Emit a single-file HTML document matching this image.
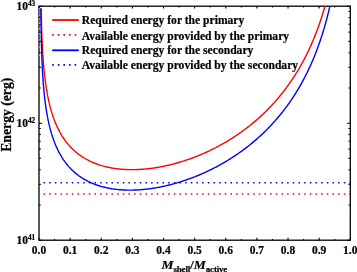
<!DOCTYPE html>
<html><head><meta charset="utf-8"><title>Energy</title><style>html,body{margin:0;padding:0;background:#fff}body{width:357px;height:272px;overflow:hidden}</style></head><body>
<svg width="357" height="272" viewBox="0 0 357 272" style="display:block;will-change:transform">
<rect width="357" height="272" fill="#fff"/>
<line x1="43.5" y1="193.9" x2="351.0" y2="193.9" stroke="#f00" stroke-width="1.5" stroke-dasharray="1.5 4.166"/>
<line x1="43.5" y1="182.7" x2="351.0" y2="182.7" stroke="#00f" stroke-width="1.5" stroke-dasharray="1.5 4.166"/>
<path d="M39.00,240.2v-2.4M39.00,6.2v2.4M54.56,240.2v-1.3M54.56,6.2v1.3M70.13,240.2v-2.4M70.13,6.2v2.4M85.70,240.2v-1.3M85.70,6.2v1.3M101.26,240.2v-2.4M101.26,6.2v2.4M116.83,240.2v-1.3M116.83,6.2v1.3M132.39,240.2v-2.4M132.39,6.2v2.4M147.96,240.2v-1.3M147.96,6.2v1.3M163.52,240.2v-2.4M163.52,6.2v2.4M179.09,240.2v-1.3M179.09,6.2v1.3M194.65,240.2v-2.4M194.65,6.2v2.4M210.22,240.2v-1.3M210.22,6.2v1.3M225.78,240.2v-2.4M225.78,6.2v2.4M241.35,240.2v-1.3M241.35,6.2v1.3M256.91,240.2v-2.4M256.91,6.2v2.4M272.48,240.2v-1.3M272.48,6.2v1.3M288.04,240.2v-2.4M288.04,6.2v2.4M303.61,240.2v-1.3M303.61,6.2v1.3M319.17,240.2v-2.4M319.17,6.2v2.4M334.74,240.2v-1.3M334.74,6.2v1.3M350.30,240.2v-2.4M350.30,6.2v2.4M39.0,240.20h3.2M350.3,240.20h-3.2M39.0,204.98h1.8M350.3,204.98h-1.8M39.0,184.38h1.8M350.3,184.38h-1.8M39.0,169.76h1.8M350.3,169.76h-1.8M39.0,158.42h1.8M350.3,158.42h-1.8M39.0,149.16h1.8M350.3,149.16h-1.8M39.0,141.32h1.8M350.3,141.32h-1.8M39.0,134.54h1.8M350.3,134.54h-1.8M39.0,128.55h1.8M350.3,128.55h-1.8M39.0,123.20h3.2M350.3,123.20h-3.2M39.0,87.98h1.8M350.3,87.98h-1.8M39.0,67.38h1.8M350.3,67.38h-1.8M39.0,52.76h1.8M350.3,52.76h-1.8M39.0,41.42h1.8M350.3,41.42h-1.8M39.0,32.16h1.8M350.3,32.16h-1.8M39.0,24.32h1.8M350.3,24.32h-1.8M39.0,17.54h1.8M350.3,17.54h-1.8M39.0,11.55h1.8M350.3,11.55h-1.8M39.0,6.20h3.2M350.3,6.20h-3.2" stroke="#000" stroke-width="1.1" fill="none"/>
<rect x="39.0" y="6.2" width="311.3" height="234.0" fill="none" stroke="#000" stroke-width="1.3"/>
<path d="M41.15,8.96 L41.21,11.87 L41.27,14.60 L41.32,17.17 L41.38,19.61 L41.44,21.91 L41.50,24.10 L41.56,26.19 L41.62,28.18 L41.68,30.09 L41.74,31.92 L41.80,33.67 L41.87,35.36 L41.93,36.99 L41.99,38.55 L42.06,40.07 L42.12,41.53 L42.19,42.94 L42.25,44.31 L42.32,45.64 L42.38,46.93 L42.45,48.18 L42.51,49.40 L42.58,50.58 L42.65,51.73 L42.72,52.85 L42.78,53.95 L42.85,55.01 L42.92,56.05 L42.99,57.07 L43.06,58.06 L43.13,59.03 L43.20,59.98 L43.27,60.91 L43.34,61.82 L43.41,62.70 L43.48,63.57 L43.55,64.43 L43.62,65.26 L43.69,66.08 L43.76,66.89 L43.83,67.68 L43.90,68.45 L43.97,69.21 L44.05,69.96 L44.12,70.70 L44.19,71.42 L44.26,72.13 L44.34,72.82 L44.41,73.51 L44.48,74.19 L44.55,74.85 L44.63,75.50 L44.70,76.15 L44.77,76.78 L44.85,77.41 L44.92,78.02 L45.00,78.63 L45.07,79.22 L45.14,79.81 L45.22,80.39 L45.29,80.97 L45.37,81.53 L45.44,82.09 L45.51,82.64 L45.59,83.18 L45.66,83.71 L45.74,84.24 L45.81,84.76 L45.89,85.28 L45.96,85.79 L46.04,86.29 L46.11,86.78 L46.19,87.27 L46.26,87.76 L46.34,88.23 L46.41,88.71 L46.49,89.17 L46.57,89.64 L46.64,90.09 L46.72,90.54 L46.79,90.99 L46.87,91.43 L46.94,91.87 L47.02,92.30 L47.10,92.73 L47.17,93.15 L47.25,93.57 L47.32,93.98 L47.40,94.39 L47.48,94.79 L47.55,95.20 L47.63,95.59 L47.70,95.99 L47.78,96.37 L47.86,96.76 L47.93,97.14 L48.01,97.52 L48.09,97.89 L48.16,98.26 L48.24,98.63 L48.32,99.00 L48.39,99.36 L48.47,99.71 L48.55,100.07 L48.62,100.42 L48.70,100.76 L48.78,101.11 L48.85,101.45 L48.93,101.79 L49.01,102.12 L49.08,102.46 L49.16,102.79 L49.24,103.11 L49.31,103.44 L49.39,103.76 L49.47,104.08 L49.54,104.39 L49.62,104.71 L49.70,105.02 L49.77,105.32 L49.85,105.63 L49.93,105.93 L50.01,106.23 L50.08,106.53 L50.16,106.83 L50.24,107.12 L50.31,107.41 L50.39,107.70 L50.47,107.99 L50.54,108.27 L50.62,108.56 L50.70,108.84 L50.78,109.12 L50.85,109.39 L50.93,109.67 L51.01,109.94 L51.08,110.21 L51.16,110.48 L51.24,110.74 L51.32,111.01 L51.39,111.27 L51.47,111.53 L51.55,111.79 L51.62,112.05 L51.70,112.30 L51.78,112.56 L51.86,112.81 L51.93,113.06 L52.01,113.31 L52.09,113.55 L52.17,113.80 L52.24,114.04 L52.32,114.28 L52.40,114.52 L52.47,114.76 L52.55,115.00 L52.63,115.23 L52.71,115.47 L52.78,115.70 L52.86,115.93 L52.94,116.16 L53.02,116.39 L53.09,116.61 L53.17,116.84 L53.25,117.06 L53.32,117.28 L53.40,117.50 L53.48,117.72 L53.56,117.94 L53.63,118.16 L53.71,118.37 L53.79,118.59 L53.87,118.80 L53.94,119.01 L54.02,119.22 L54.10,119.43 L54.18,119.64 L54.25,119.84 L54.33,120.05 L54.41,120.25 L54.49,120.46 L54.56,120.66 L54.64,120.86 L54.72,121.06 L54.79,121.26 L54.87,121.45 L54.87,121.45 L55.76,123.63 L56.64,125.67 L57.53,127.59 L58.41,129.41 L59.30,131.12 L60.18,132.75 L61.07,134.30 L61.95,135.77 L62.84,137.16 L63.72,138.50 L64.61,139.77 L65.49,140.99 L66.38,142.16 L67.26,143.28 L68.15,144.35 L69.03,145.37 L69.92,146.36 L70.80,147.31 L71.69,148.22 L72.58,149.09 L73.46,149.94 L74.35,150.75 L75.23,151.53 L76.12,152.29 L77.00,153.01 L77.89,153.71 L78.77,154.39 L79.66,155.04 L80.54,155.67 L81.43,156.28 L82.31,156.86 L83.20,157.43 L84.08,157.98 L84.97,158.50 L85.85,159.01 L86.74,159.51 L87.62,159.98 L88.51,160.44 L89.39,160.88 L90.28,161.31 L91.17,161.73 L92.05,162.12 L92.94,162.51 L93.82,162.88 L94.71,163.24 L95.59,163.58 L96.48,163.92 L97.36,164.24 L98.25,164.55 L99.13,164.84 L100.02,165.13 L100.90,165.41 L101.79,165.67 L102.67,165.93 L103.56,166.17 L104.44,166.41 L105.33,166.63 L106.21,166.85 L107.10,167.05 L107.99,167.25 L108.87,167.44 L109.76,167.62 L110.64,167.79 L111.53,167.95 L112.41,168.10 L113.30,168.25 L114.18,168.39 L115.07,168.52 L115.95,168.64 L116.84,168.75 L117.72,168.86 L118.61,168.96 L119.49,169.05 L120.38,169.14 L121.26,169.22 L122.15,169.29 L123.03,169.36 L123.92,169.42 L124.80,169.47 L125.69,169.51 L126.58,169.55 L127.46,169.59 L128.35,169.61 L129.23,169.63 L130.12,169.65 L131.00,169.66 L131.89,169.66 L132.77,169.66 L133.66,169.65 L134.54,169.63 L135.43,169.61 L136.31,169.59 L137.20,169.56 L138.08,169.52 L138.97,169.48 L139.85,169.43 L140.74,169.38 L141.62,169.32 L142.51,169.25 L143.40,169.18 L144.28,169.11 L145.17,169.03 L146.05,168.95 L146.94,168.86 L147.82,168.76 L148.71,168.66 L149.59,168.56 L150.48,168.45 L151.36,168.33 L152.25,168.21 L153.13,168.09 L154.02,167.96 L154.90,167.83 L155.79,167.69 L156.67,167.55 L157.56,167.40 L158.44,167.25 L159.33,167.09 L160.21,166.93 L161.10,166.76 L161.99,166.59 L162.87,166.41 L163.76,166.23 L164.64,166.05 L165.53,165.86 L166.41,165.67 L167.30,165.47 L168.18,165.26 L169.07,165.06 L169.95,164.84 L170.84,164.63 L171.72,164.41 L172.61,164.18 L173.49,163.95 L174.38,163.71 L175.26,163.48 L176.15,163.23 L177.03,162.98 L177.92,162.73 L178.81,162.47 L179.69,162.21 L180.58,161.95 L181.46,161.68 L182.35,161.40 L183.23,161.12 L184.12,160.84 L185.00,160.55 L185.89,160.25 L186.77,159.96 L187.66,159.65 L188.54,159.35 L189.43,159.04 L190.31,158.72 L191.20,158.40 L192.08,158.08 L192.97,157.75 L193.85,157.41 L194.74,157.07 L195.62,156.73 L196.51,156.38 L197.40,156.03 L198.28,155.67 L199.17,155.31 L200.05,154.94 L200.94,154.57 L201.82,154.19 L202.71,153.81 L203.59,153.43 L204.48,153.03 L205.36,152.64 L206.25,152.24 L207.13,151.83 L208.02,151.42 L208.90,151.01 L209.79,150.58 L210.67,150.16 L211.56,149.73 L212.44,149.29 L213.33,148.85 L214.22,148.40 L215.10,147.95 L215.99,147.50 L216.87,147.03 L217.76,146.57 L218.64,146.09 L219.53,145.62 L220.41,145.13 L221.30,144.64 L222.18,144.15 L223.07,143.65 L223.95,143.14 L224.84,142.63 L225.72,142.11 L226.61,141.59 L227.49,141.06 L228.38,140.53 L229.26,139.98 L230.15,139.44 L231.03,138.88 L231.92,138.33 L232.81,137.76 L233.69,137.19 L234.58,136.61 L235.46,136.03 L236.35,135.43 L237.23,134.84 L238.12,134.23 L239.00,133.62 L239.89,133.00 L240.77,132.38 L241.66,131.75 L242.54,131.11 L243.43,130.46 L244.31,129.81 L245.20,129.15 L246.08,128.48 L246.97,127.80 L247.85,127.12 L248.74,126.43 L249.63,125.73 L250.51,125.02 L251.40,124.31 L252.28,123.59 L253.17,122.85 L254.05,122.11 L254.94,121.37 L255.82,120.61 L256.71,119.84 L257.59,119.07 L258.48,118.28 L259.36,117.49 L260.25,116.68 L261.13,115.87 L262.02,115.05 L262.90,114.22 L263.79,113.37 L264.67,112.52 L265.56,111.66 L266.44,110.78 L267.33,109.90 L268.22,109.00 L269.10,108.09 L269.99,107.18 L270.87,106.24 L271.76,105.30 L272.64,104.35 L273.53,103.38 L274.41,102.40 L275.30,101.40 L276.18,100.40 L277.07,99.38 L277.95,98.34 L278.84,97.29 L279.72,96.23 L280.61,95.15 L281.49,94.06 L282.38,92.95 L283.26,91.82 L284.15,90.68 L285.04,89.52 L285.92,88.35 L286.81,87.15 L287.69,85.94 L288.58,84.71 L289.46,83.46 L290.35,82.19 L291.23,80.90 L292.12,79.59 L293.00,78.26 L293.89,76.91 L294.77,75.53 L295.66,74.13 L296.54,72.71 L297.43,71.26 L298.31,69.78 L299.20,68.28 L300.08,66.75 L300.97,65.19 L301.85,63.61 L302.74,61.99 L303.63,60.34 L304.51,58.66 L305.40,56.94 L306.28,55.19 L307.17,53.40 L308.05,51.58 L308.94,49.71 L309.82,47.80 L310.71,45.85 L311.59,43.86 L312.48,41.81 L313.36,39.72 L314.25,37.58 L315.13,35.38 L316.02,33.13 L316.90,30.81 L317.79,28.43 L318.67,25.99 L319.56,23.48 L319.56,23.48 L319.78,22.84 L320.00,22.20 L320.22,21.55 L320.44,20.90 L320.66,20.25 L320.88,19.59 L321.10,18.92 L321.32,18.25 L321.54,17.58 L321.76,16.90 L321.98,16.21 L322.20,15.52 L322.42,14.82 L322.64,14.12 L322.86,13.41 L323.08,12.70 L323.30,11.98 L323.52,11.25 L323.74,10.52 L323.96,9.78 L324.18,9.04 L324.40,8.29 L324.62,7.53 L324.84,6.77 L325.06,6.00" fill="none" stroke="#f00" stroke-width="1.4" stroke-linejoin="round"/>
<path d="M40.83,8.04 L40.88,12.81 L40.93,17.12 L40.99,21.05 L41.04,24.66 L41.10,28.00 L41.15,31.11 L41.21,34.02 L41.27,36.75 L41.32,39.32 L41.38,41.75 L41.44,44.05 L41.50,46.24 L41.56,48.32 L41.62,50.31 L41.68,52.22 L41.74,54.04 L41.80,55.80 L41.87,57.48 L41.93,59.11 L41.99,60.67 L42.06,62.18 L42.12,63.64 L42.19,65.05 L42.25,66.42 L42.32,67.75 L42.38,69.03 L42.45,70.28 L42.51,71.50 L42.58,72.68 L42.65,73.83 L42.72,74.95 L42.78,76.04 L42.85,77.10 L42.92,78.14 L42.99,79.16 L43.06,80.15 L43.13,81.11 L43.20,82.06 L43.27,82.98 L43.34,83.89 L43.41,84.78 L43.48,85.65 L43.55,86.50 L43.62,87.33 L43.69,88.15 L43.76,88.95 L43.83,89.74 L43.90,90.51 L43.97,91.27 L44.05,92.02 L44.12,92.75 L44.19,93.47 L44.26,94.18 L44.34,94.87 L44.41,95.56 L44.48,96.23 L44.55,96.89 L44.63,97.54 L44.70,98.18 L44.77,98.82 L44.85,99.44 L44.92,100.05 L45.00,100.66 L45.07,101.25 L45.14,101.84 L45.22,102.42 L45.29,102.99 L45.37,103.55 L45.44,104.10 L45.51,104.65 L45.59,105.19 L45.66,105.72 L45.74,106.25 L45.81,106.77 L45.89,107.28 L45.96,107.79 L46.04,108.29 L46.11,108.78 L46.19,109.27 L46.26,109.75 L46.34,110.23 L46.41,110.70 L46.49,111.16 L46.57,111.62 L46.64,112.08 L46.72,112.53 L46.79,112.97 L46.87,113.41 L46.94,113.84 L47.02,114.27 L47.10,114.70 L47.17,115.12 L47.25,115.54 L47.32,115.95 L47.40,116.35 L47.48,116.76 L47.55,117.16 L47.63,117.55 L47.70,117.94 L47.78,118.33 L47.86,118.71 L47.93,119.09 L48.01,119.47 L48.09,119.84 L48.16,120.21 L48.24,120.58 L48.32,120.94 L48.39,121.30 L48.47,121.65 L48.55,122.00 L48.62,122.35 L48.70,122.70 L48.78,123.04 L48.85,123.38 L48.93,123.72 L49.01,124.05 L49.08,124.38 L49.16,124.71 L49.24,125.03 L49.31,125.36 L49.39,125.67 L49.47,125.99 L49.54,126.31 L49.62,126.62 L49.70,126.93 L49.77,127.23 L49.85,127.54 L49.93,127.84 L50.01,128.14 L50.08,128.43 L50.16,128.73 L50.24,129.02 L50.31,129.31 L50.39,129.60 L50.47,129.88 L50.54,130.16 L50.62,130.45 L50.70,130.72 L50.78,131.00 L50.85,131.28 L50.93,131.55 L51.01,131.82 L51.08,132.09 L51.16,132.35 L51.24,132.62 L51.32,132.88 L51.39,133.14 L51.47,133.40 L51.55,133.66 L51.62,133.91 L51.70,134.17 L51.78,134.42 L51.86,134.67 L51.93,134.92 L52.01,135.16 L52.09,135.41 L52.17,135.65 L52.24,135.89 L52.32,136.13 L52.40,136.37 L52.47,136.61 L52.55,136.84 L52.63,137.07 L52.71,137.31 L52.78,137.54 L52.86,137.77 L52.94,137.99 L53.02,138.22 L53.09,138.44 L53.17,138.67 L53.25,138.89 L53.32,139.11 L53.40,139.33 L53.48,139.55 L53.56,139.76 L53.63,139.98 L53.71,140.19 L53.79,140.40 L53.87,140.61 L53.94,140.82 L54.02,141.03 L54.10,141.24 L54.18,141.44 L54.25,141.65 L54.33,141.85 L54.41,142.06 L54.49,142.26 L54.56,142.46 L54.64,142.65 L54.72,142.85 L54.79,143.05 L54.87,143.24 L54.87,143.24 L55.76,145.40 L56.64,147.42 L57.53,149.32 L58.41,151.12 L59.30,152.82 L60.18,154.43 L61.07,155.95 L61.95,157.40 L62.84,158.79 L63.72,160.10 L64.61,161.36 L65.49,162.56 L66.38,163.71 L67.26,164.81 L68.15,165.86 L69.03,166.87 L69.92,167.84 L70.80,168.77 L71.69,169.66 L72.58,170.52 L73.46,171.35 L74.35,172.14 L75.23,172.91 L76.12,173.64 L77.00,174.35 L77.89,175.04 L78.77,175.70 L79.66,176.33 L80.54,176.94 L81.43,177.54 L82.31,178.11 L83.20,178.66 L84.08,179.19 L84.97,179.70 L85.85,180.19 L86.74,180.67 L87.62,181.13 L88.51,181.57 L89.39,182.00 L90.28,182.41 L91.17,182.81 L92.05,183.19 L92.94,183.56 L93.82,183.92 L94.71,184.26 L95.59,184.59 L96.48,184.91 L97.36,185.22 L98.25,185.51 L99.13,185.79 L100.02,186.07 L100.90,186.33 L101.79,186.58 L102.67,186.82 L103.56,187.05 L104.44,187.27 L105.33,187.48 L106.21,187.68 L107.10,187.87 L107.99,188.05 L108.87,188.23 L109.76,188.39 L110.64,188.55 L111.53,188.70 L112.41,188.84 L113.30,188.97 L114.18,189.09 L115.07,189.21 L115.95,189.32 L116.84,189.42 L117.72,189.52 L118.61,189.60 L119.49,189.68 L120.38,189.76 L121.26,189.82 L122.15,189.88 L123.03,189.93 L123.92,189.98 L124.80,190.02 L125.69,190.05 L126.58,190.08 L127.46,190.10 L128.35,190.11 L129.23,190.12 L130.12,190.12 L131.00,190.12 L131.89,190.11 L132.77,190.09 L133.66,190.07 L134.54,190.05 L135.43,190.01 L136.31,189.98 L137.20,189.93 L138.08,189.88 L138.97,189.83 L139.85,189.77 L140.74,189.70 L141.62,189.63 L142.51,189.56 L143.40,189.48 L144.28,189.39 L145.17,189.30 L146.05,189.21 L146.94,189.10 L147.82,189.00 L148.71,188.89 L149.59,188.77 L150.48,188.65 L151.36,188.53 L152.25,188.40 L153.13,188.26 L154.02,188.12 L154.90,187.98 L155.79,187.83 L156.67,187.67 L157.56,187.52 L158.44,187.35 L159.33,187.19 L160.21,187.01 L161.10,186.84 L161.99,186.65 L162.87,186.47 L163.76,186.28 L164.64,186.08 L165.53,185.88 L166.41,185.68 L167.30,185.47 L168.18,185.26 L169.07,185.04 L169.95,184.82 L170.84,184.59 L171.72,184.36 L172.61,184.12 L173.49,183.89 L174.38,183.64 L175.26,183.39 L176.15,183.14 L177.03,182.88 L177.92,182.62 L178.81,182.35 L179.69,182.08 L180.58,181.81 L181.46,181.53 L182.35,181.24 L183.23,180.95 L184.12,180.66 L185.00,180.36 L185.89,180.06 L186.77,179.76 L187.66,179.44 L188.54,179.13 L189.43,178.81 L190.31,178.49 L191.20,178.16 L192.08,177.82 L192.97,177.48 L193.85,177.14 L194.74,176.80 L195.62,176.44 L196.51,176.09 L197.40,175.73 L198.28,175.36 L199.17,174.99 L200.05,174.62 L200.94,174.24 L201.82,173.85 L202.71,173.46 L203.59,173.07 L204.48,172.67 L205.36,172.27 L206.25,171.86 L207.13,171.45 L208.02,171.03 L208.90,170.60 L209.79,170.18 L210.67,169.74 L211.56,169.30 L212.44,168.86 L213.33,168.41 L214.22,167.96 L215.10,167.50 L215.99,167.04 L216.87,166.57 L217.76,166.09 L218.64,165.62 L219.53,165.13 L220.41,164.64 L221.30,164.14 L222.18,163.64 L223.07,163.14 L223.95,162.62 L224.84,162.11 L225.72,161.58 L226.61,161.05 L227.49,160.52 L228.38,159.98 L229.26,159.43 L230.15,158.88 L231.03,158.32 L231.92,157.75 L232.81,157.18 L233.69,156.60 L234.58,156.02 L235.46,155.43 L236.35,154.83 L237.23,154.23 L238.12,153.62 L239.00,153.00 L239.89,152.38 L240.77,151.75 L241.66,151.11 L242.54,150.46 L243.43,149.81 L244.31,149.15 L245.20,148.49 L246.08,147.82 L246.97,147.13 L247.85,146.45 L248.74,145.75 L249.63,145.05 L250.51,144.33 L251.40,143.61 L252.28,142.89 L253.17,142.15 L254.05,141.41 L254.94,140.65 L255.82,139.89 L256.71,139.12 L257.59,138.34 L258.48,137.55 L259.36,136.75 L260.25,135.94 L261.13,135.13 L262.02,134.30 L262.90,133.46 L263.79,132.62 L264.67,131.76 L265.56,130.89 L266.44,130.01 L267.33,129.12 L268.22,128.22 L269.10,127.31 L269.99,126.39 L270.87,125.45 L271.76,124.51 L272.64,123.55 L273.53,122.58 L274.41,121.59 L275.30,120.60 L276.18,119.58 L277.07,118.56 L277.95,117.52 L278.84,116.47 L279.72,115.40 L280.61,114.32 L281.49,113.22 L282.38,112.11 L283.26,110.98 L284.15,109.84 L285.04,108.68 L285.92,107.50 L286.81,106.30 L287.69,105.09 L288.58,103.85 L289.46,102.60 L290.35,101.33 L291.23,100.04 L292.12,98.72 L293.00,97.39 L293.89,96.03 L294.77,94.65 L295.66,93.25 L296.54,91.82 L297.43,90.37 L298.31,88.89 L299.20,87.39 L300.08,85.86 L300.97,84.30 L301.85,82.71 L302.74,81.09 L303.63,79.44 L304.51,77.75 L305.40,76.03 L306.28,74.28 L307.17,72.49 L308.05,70.66 L308.94,68.79 L309.82,66.89 L310.71,64.93 L311.59,62.94 L312.48,60.89 L313.36,58.80 L314.25,56.65 L315.13,54.45 L316.02,52.19 L316.90,49.88 L317.79,47.50 L318.67,45.05 L319.56,42.54 L319.56,42.54 L319.78,41.90 L320.00,41.26 L320.22,40.62 L320.44,39.96 L320.66,39.31 L320.88,38.65 L321.10,37.98 L321.32,37.31 L321.54,36.64 L321.76,35.95 L321.98,35.27 L322.20,34.58 L322.42,33.88 L322.64,33.18 L322.86,32.47 L323.08,31.75 L323.30,31.03 L323.52,30.31 L323.74,29.58 L323.96,28.84 L324.18,28.10 L324.40,27.34 L324.62,26.59 L324.84,25.83 L325.06,25.06 L325.28,24.28 L325.50,23.50 L325.73,22.71 L325.95,21.91 L326.17,21.10 L326.39,20.29 L326.61,19.47 L326.83,18.65 L327.05,17.81 L327.27,16.97 L327.49,16.12 L327.71,15.26 L327.93,14.39 L328.15,13.52 L328.37,12.63 L328.59,11.74 L328.81,10.84 L329.03,9.92 L329.25,9.00 L329.47,8.07 L329.69,7.13 L329.91,6.18" fill="none" stroke="#00f" stroke-width="1.4" stroke-linejoin="round"/>
<path d="M39.1,8.9h1.1M39.1,11.7h1.1M39.1,15.0h1.1M39.1,18.8h1.1M39.1,23.4h1.1M39.1,28.7h1.1M39.1,33.8h1.1M39.1,40.0h1.1M39.1,47.0h1.1M39.1,55.0h1.1" stroke="#e0e0ea" stroke-width="1.1" fill="none"/>
<text x="39.00" y="253.5" text-anchor="middle" font-family="Liberation Serif, serif" font-weight="bold" stroke="#000" stroke-width="0.2" font-size="11.5">0.0</text>
<text x="70.13" y="253.5" text-anchor="middle" font-family="Liberation Serif, serif" font-weight="bold" stroke="#000" stroke-width="0.2" font-size="11.5">0.1</text>
<text x="101.26" y="253.5" text-anchor="middle" font-family="Liberation Serif, serif" font-weight="bold" stroke="#000" stroke-width="0.2" font-size="11.5">0.2</text>
<text x="132.39" y="253.5" text-anchor="middle" font-family="Liberation Serif, serif" font-weight="bold" stroke="#000" stroke-width="0.2" font-size="11.5">0.3</text>
<text x="163.52" y="253.5" text-anchor="middle" font-family="Liberation Serif, serif" font-weight="bold" stroke="#000" stroke-width="0.2" font-size="11.5">0.4</text>
<text x="194.65" y="253.5" text-anchor="middle" font-family="Liberation Serif, serif" font-weight="bold" stroke="#000" stroke-width="0.2" font-size="11.5">0.5</text>
<text x="225.78" y="253.5" text-anchor="middle" font-family="Liberation Serif, serif" font-weight="bold" stroke="#000" stroke-width="0.2" font-size="11.5">0.6</text>
<text x="256.91" y="253.5" text-anchor="middle" font-family="Liberation Serif, serif" font-weight="bold" stroke="#000" stroke-width="0.2" font-size="11.5">0.7</text>
<text x="288.04" y="253.5" text-anchor="middle" font-family="Liberation Serif, serif" font-weight="bold" stroke="#000" stroke-width="0.2" font-size="11.5">0.8</text>
<text x="319.17" y="253.5" text-anchor="middle" font-family="Liberation Serif, serif" font-weight="bold" stroke="#000" stroke-width="0.2" font-size="11.5">0.9</text>
<text x="350.30" y="253.5" text-anchor="middle" font-family="Liberation Serif, serif" font-weight="bold" stroke="#000" stroke-width="0.2" font-size="11.5">1.0</text>
<text x="35.2" y="244.40" text-anchor="end" font-family="Liberation Serif, serif" font-weight="bold" stroke="#000" stroke-width="0.2" font-size="11.5">10<tspan font-size="7.3" dy="-4.7">41</tspan></text>
<text x="35.2" y="127.40" text-anchor="end" font-family="Liberation Serif, serif" font-weight="bold" stroke="#000" stroke-width="0.2" font-size="11.5">10<tspan font-size="7.3" dy="-4.7">42</tspan></text>
<text x="35.2" y="10.40" text-anchor="end" font-family="Liberation Serif, serif" font-weight="bold" stroke="#000" stroke-width="0.2" font-size="11.5">10<tspan font-size="7.3" dy="-4.7">43</tspan></text>
<text transform="translate(10.6,114.7) rotate(-90)" text-anchor="middle" font-family="Liberation Serif, serif" font-weight="bold" stroke="#000" stroke-width="0.2" font-size="13.7">Energy (erg)</text>
<text x="161.5" y="268.6" font-family="Liberation Serif, serif" font-weight="bold" stroke="#000" stroke-width="0.2" font-size="13.5"><tspan font-style="italic">M</tspan><tspan font-size="9" letter-spacing="-0.2" dy="3.3">shell</tspan><tspan dy="-3.3">/</tspan><tspan font-style="italic">M</tspan><tspan font-size="9" letter-spacing="-0.2" dy="3.3">active</tspan></text>
<line x1="52.2" y1="20.0" x2="78.8" y2="20.0" stroke="#f00" stroke-width="1.8"/>
<text x="81.8" y="24.4" font-family="Liberation Serif, serif" font-weight="bold" stroke="#000" stroke-width="0.2" font-size="11.6">Required energy for the primary</text>
<line x1="52.2" y1="34.9" x2="78.8" y2="34.9" stroke="#f00" stroke-width="1.6" stroke-dasharray="1.6 4.0"/>
<text x="81.8" y="39.6" font-family="Liberation Serif, serif" font-weight="bold" stroke="#000" stroke-width="0.2" font-size="11.6">Available energy provided by the primary</text>
<line x1="52.2" y1="50.3" x2="78.8" y2="50.3" stroke="#00f" stroke-width="1.8"/>
<text x="81.8" y="54.3" font-family="Liberation Serif, serif" font-weight="bold" stroke="#000" stroke-width="0.2" font-size="11.6">Required energy for the secondary</text>
<line x1="52.2" y1="64.9" x2="78.8" y2="64.9" stroke="#00f" stroke-width="1.6" stroke-dasharray="1.6 4.0"/>
<text x="81.8" y="68.7" font-family="Liberation Serif, serif" font-weight="bold" stroke="#000" stroke-width="0.2" font-size="11.6">Available energy provided by the secondary</text>
</svg>
</body></html>
